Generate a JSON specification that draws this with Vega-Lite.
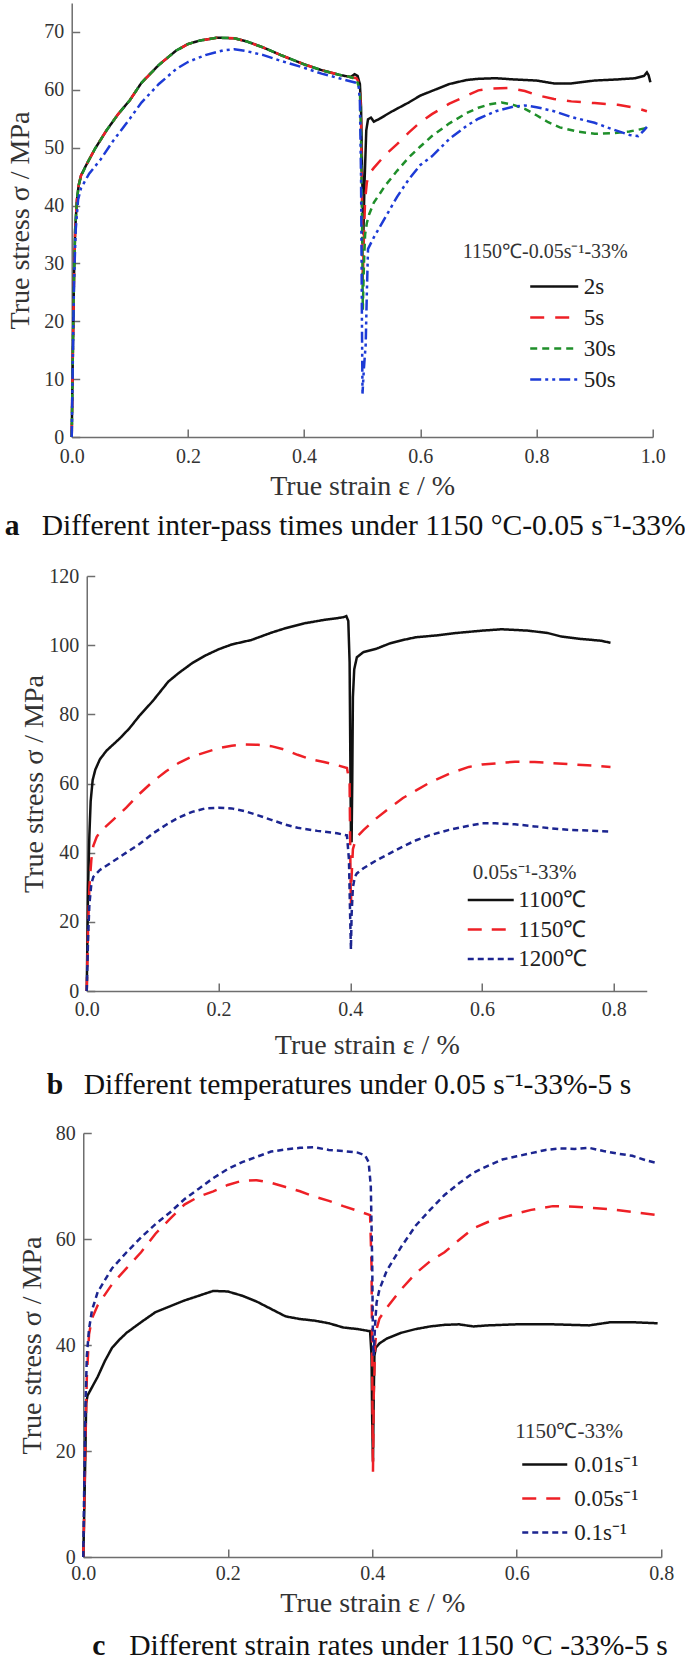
{
"$schema": "https://vega.github.io/schema/vega-lite/v6.json",
"padding": {"left": 4, "top": 3, "right": 0, "bottom": 0},
"spacing": 23,
"center": true,
"resolve": {"scale": {"color": "independent", "strokeDash": "independent"}, "legend": {"color": "independent", "strokeDash": "independent"}},
"config": {
 "font": "Liberation Serif",
 "view": {"stroke": null},
 "line": {"strokeWidth": 2.5},
 "axis": {"grid": false, "labelFlush": false, "domainColor": "#6e6e6e", "domainWidth": 1.5, "tickColor": "#6e6e6e", "tickWidth": 1.5, "tickSize": -8, "labelFont": "Liberation Serif", "labelFontSize": 20, "labelColor": "#333333", "titleFont": "Liberation Serif", "titleFontSize": 28, "titleFontWeight": "normal", "titleColor": "#333333", "labelPadding": 16},
 "legend": {"orient": "none", "symbolType": "M-3,0H3", "symbolSize": 256, "symbolStrokeWidth": 3, "labelFont": "Liberation Serif", "titleFont": "Liberation Serif", "titleFontWeight": "normal", "labelColor": "#222222", "titleColor": "#333333", "padding": 0, "labelFontSize": 23, "titleFontSize": 21, "titleLimit": 400, "labelLimit": 300},
 "title": {"orient": "bottom", "anchor": "start", "frame": "group", "font": "Liberation Serif", "fontSize": 29.6, "fontWeight": "bold", "color": "#111111", "subtitleFont": "Liberation Serif", "subtitleFontSize": 29.6, "subtitleFontWeight": "normal", "subtitleColor": "#111111", "subtitlePadding": -29.6}
},
"datasets": {
 "a": [
  {"s":"2s","x":0,"y":0},{"s":"2s","x":0.002,"y":15},{"s":"2s","x":0.004,"y":28},{"s":"2s","x":0.006,"y":36},{"s":"2s","x":0.009,"y":41},{"s":"2s","x":0.012,"y":43.5},{"s":"2s","x":0.016,"y":45.2},{"s":"2s","x":0.025,"y":47},{"s":"2s","x":0.04,"y":49.8},{"s":"2s","x":0.06,"y":53},{"s":"2s","x":0.08,"y":55.8},{"s":"2s","x":0.1,"y":58.2},{"s":"2s","x":0.12,"y":61.2},{"s":"2s","x":0.15,"y":64.3},{"s":"2s","x":0.18,"y":66.8},{"s":"2s","x":0.2,"y":67.9},{"s":"2s","x":0.22,"y":68.5},{"s":"2s","x":0.25,"y":69},{"s":"2s","x":0.28,"y":68.9},{"s":"2s","x":0.3,"y":68.4},{"s":"2s","x":0.33,"y":67.3},{"s":"2s","x":0.36,"y":66},{"s":"2s","x":0.4,"y":64.4},{"s":"2s","x":0.43,"y":63.4},{"s":"2s","x":0.46,"y":62.6},{"s":"2s","x":0.48,"y":62.2},{"s":"2s","x":0.487,"y":62.7},{"s":"2s","x":0.492,"y":62.4},{"s":"2s","x":0.496,"y":61},{"s":"2s","x":0.498,"y":57},{"s":"2s","x":0.5,"y":45},{"s":"2s","x":0.502,"y":35},{"s":"2s","x":0.504,"y":44},{"s":"2s","x":0.507,"y":53},{"s":"2s","x":0.51,"y":54.9},{"s":"2s","x":0.515,"y":55.2},{"s":"2s","x":0.52,"y":54.5},{"s":"2s","x":0.53,"y":55},{"s":"2s","x":0.55,"y":56.2},{"s":"2s","x":0.58,"y":57.8},{"s":"2s","x":0.6,"y":59},{"s":"2s","x":0.62,"y":59.8},{"s":"2s","x":0.65,"y":61},{"s":"2s","x":0.68,"y":61.7},{"s":"2s","x":0.7,"y":61.9},{"s":"2s","x":0.73,"y":62},{"s":"2s","x":0.76,"y":61.8},{"s":"2s","x":0.8,"y":61.6},{"s":"2s","x":0.83,"y":61.1},{"s":"2s","x":0.86,"y":61.1},{"s":"2s","x":0.9,"y":61.6},{"s":"2s","x":0.94,"y":61.8},{"s":"2s","x":0.97,"y":62},{"s":"2s","x":0.985,"y":62.4},{"s":"2s","x":0.99,"y":63},{"s":"2s","x":0.993,"y":62.5},{"s":"2s","x":0.996,"y":61.3},
  {"s":"5s","x":0,"y":0},{"s":"5s","x":0.002,"y":15},{"s":"5s","x":0.004,"y":28},{"s":"5s","x":0.006,"y":36},{"s":"5s","x":0.009,"y":41},{"s":"5s","x":0.012,"y":43.5},{"s":"5s","x":0.016,"y":45.2},{"s":"5s","x":0.025,"y":47},{"s":"5s","x":0.04,"y":49.8},{"s":"5s","x":0.06,"y":53},{"s":"5s","x":0.08,"y":55.8},{"s":"5s","x":0.1,"y":58.2},{"s":"5s","x":0.12,"y":61.2},{"s":"5s","x":0.15,"y":64.3},{"s":"5s","x":0.18,"y":66.8},{"s":"5s","x":0.2,"y":67.9},{"s":"5s","x":0.22,"y":68.5},{"s":"5s","x":0.25,"y":69},{"s":"5s","x":0.28,"y":68.9},{"s":"5s","x":0.3,"y":68.4},{"s":"5s","x":0.33,"y":67.3},{"s":"5s","x":0.36,"y":66},{"s":"5s","x":0.4,"y":64.4},{"s":"5s","x":0.43,"y":63.4},{"s":"5s","x":0.46,"y":62.6},{"s":"5s","x":0.48,"y":62.2},{"s":"5s","x":0.49,"y":62},{"s":"5s","x":0.496,"y":61},{"s":"5s","x":0.498,"y":55},{"s":"5s","x":0.5,"y":38},{"s":"5s","x":0.501,"y":27},{"s":"5s","x":0.503,"y":35},{"s":"5s","x":0.505,"y":41},{"s":"5s","x":0.508,"y":44},{"s":"5s","x":0.512,"y":45.5},{"s":"5s","x":0.52,"y":46.5},{"s":"5s","x":0.54,"y":48.8},{"s":"5s","x":0.56,"y":50.6},{"s":"5s","x":0.58,"y":52.6},{"s":"5s","x":0.6,"y":54.4},{"s":"5s","x":0.62,"y":55.8},{"s":"5s","x":0.65,"y":57.6},{"s":"5s","x":0.68,"y":59},{"s":"5s","x":0.7,"y":59.9},{"s":"5s","x":0.72,"y":60.2},{"s":"5s","x":0.75,"y":60.3},{"s":"5s","x":0.78,"y":59.8},{"s":"5s","x":0.8,"y":59.1},{"s":"5s","x":0.83,"y":58.4},{"s":"5s","x":0.86,"y":58},{"s":"5s","x":0.9,"y":57.7},{"s":"5s","x":0.94,"y":57.4},{"s":"5s","x":0.97,"y":56.9},{"s":"5s","x":0.99,"y":56.3},
  {"s":"30s","x":0,"y":0},{"s":"30s","x":0.002,"y":15},{"s":"30s","x":0.004,"y":28},{"s":"30s","x":0.006,"y":36},{"s":"30s","x":0.009,"y":41},{"s":"30s","x":0.012,"y":43.5},{"s":"30s","x":0.016,"y":45},{"s":"30s","x":0.025,"y":47},{"s":"30s","x":0.04,"y":49.8},{"s":"30s","x":0.06,"y":53},{"s":"30s","x":0.08,"y":55.8},{"s":"30s","x":0.1,"y":58.2},{"s":"30s","x":0.12,"y":61.2},{"s":"30s","x":0.15,"y":64.3},{"s":"30s","x":0.18,"y":66.8},{"s":"30s","x":0.2,"y":67.9},{"s":"30s","x":0.22,"y":68.5},{"s":"30s","x":0.25,"y":69},{"s":"30s","x":0.28,"y":68.9},{"s":"30s","x":0.3,"y":68.4},{"s":"30s","x":0.33,"y":67.3},{"s":"30s","x":0.36,"y":66},{"s":"30s","x":0.4,"y":64.4},{"s":"30s","x":0.43,"y":63.4},{"s":"30s","x":0.46,"y":62.6},{"s":"30s","x":0.48,"y":62.2},{"s":"30s","x":0.49,"y":61.8},{"s":"30s","x":0.496,"y":60},{"s":"30s","x":0.498,"y":52},{"s":"30s","x":0.5,"y":35},{"s":"30s","x":0.501,"y":22},{"s":"30s","x":0.503,"y":30},{"s":"30s","x":0.505,"y":35},{"s":"30s","x":0.508,"y":37},{"s":"30s","x":0.512,"y":38.5},{"s":"30s","x":0.52,"y":40.5},{"s":"30s","x":0.54,"y":43.5},{"s":"30s","x":0.56,"y":46},{"s":"30s","x":0.58,"y":48.3},{"s":"30s","x":0.6,"y":50.2},{"s":"30s","x":0.62,"y":52},{"s":"30s","x":0.65,"y":54.2},{"s":"30s","x":0.68,"y":56},{"s":"30s","x":0.7,"y":56.9},{"s":"30s","x":0.72,"y":57.5},{"s":"30s","x":0.74,"y":57.8},{"s":"30s","x":0.76,"y":57.4},{"s":"30s","x":0.78,"y":56.7},{"s":"30s","x":0.8,"y":55.6},{"s":"30s","x":0.82,"y":54.4},{"s":"30s","x":0.84,"y":53.5},{"s":"30s","x":0.87,"y":52.8},{"s":"30s","x":0.9,"y":52.4},{"s":"30s","x":0.93,"y":52.5},{"s":"30s","x":0.96,"y":52.8},{"s":"30s","x":0.99,"y":53.4},
  {"s":"50s","x":0,"y":0},{"s":"50s","x":0.002,"y":14},{"s":"50s","x":0.004,"y":27},{"s":"50s","x":0.007,"y":36},{"s":"50s","x":0.011,"y":41},{"s":"50s","x":0.016,"y":43},{"s":"50s","x":0.03,"y":45.5},{"s":"50s","x":0.05,"y":48},{"s":"50s","x":0.07,"y":51},{"s":"50s","x":0.1,"y":55},{"s":"50s","x":0.12,"y":57.8},{"s":"50s","x":0.15,"y":61},{"s":"50s","x":0.18,"y":63.6},{"s":"50s","x":0.2,"y":64.8},{"s":"50s","x":0.23,"y":66},{"s":"50s","x":0.26,"y":66.8},{"s":"50s","x":0.28,"y":67},{"s":"50s","x":0.3,"y":66.7},{"s":"50s","x":0.33,"y":66},{"s":"50s","x":0.36,"y":65},{"s":"50s","x":0.4,"y":63.8},{"s":"50s","x":0.43,"y":62.8},{"s":"50s","x":0.46,"y":62},{"s":"50s","x":0.49,"y":61.2},{"s":"50s","x":0.494,"y":60.5},{"s":"50s","x":0.496,"y":58},{"s":"50s","x":0.498,"y":45},{"s":"50s","x":0.4995,"y":20},{"s":"50s","x":0.5005,"y":7.5},{"s":"50s","x":0.503,"y":12},{"s":"50s","x":0.506,"y":16},{"s":"50s","x":0.508,"y":25},{"s":"50s","x":0.51,"y":32.5},{"s":"50s","x":0.515,"y":33.5},{"s":"50s","x":0.52,"y":34.5},{"s":"50s","x":0.54,"y":38},{"s":"50s","x":0.56,"y":41.5},{"s":"50s","x":0.58,"y":44.5},{"s":"50s","x":0.6,"y":47},{"s":"50s","x":0.62,"y":48.5},{"s":"50s","x":0.65,"y":51.5},{"s":"50s","x":0.68,"y":53.8},{"s":"50s","x":0.7,"y":55},{"s":"50s","x":0.73,"y":56.3},{"s":"50s","x":0.76,"y":57.1},{"s":"50s","x":0.78,"y":57.3},{"s":"50s","x":0.8,"y":57},{"s":"50s","x":0.83,"y":56.3},{"s":"50s","x":0.86,"y":55.3},{"s":"50s","x":0.9,"y":54.3},{"s":"50s","x":0.93,"y":53.2},{"s":"50s","x":0.96,"y":52.2},{"s":"50s","x":0.975,"y":52},{"s":"50s","x":0.985,"y":53},{"s":"50s","x":0.99,"y":53.6}
 ],
 "b": [
  {"s":"1100℃","x":0,"y":0},{"s":"1100℃","x":0.002,"y":30},{"s":"1100℃","x":0.004,"y":45},{"s":"1100℃","x":0.006,"y":55},{"s":"1100℃","x":0.009,"y":61},{"s":"1100℃","x":0.013,"y":64},{"s":"1100℃","x":0.02,"y":67},{"s":"1100℃","x":0.03,"y":69.5},{"s":"1100℃","x":0.05,"y":73},{"s":"1100℃","x":0.065,"y":76},{"s":"1100℃","x":0.08,"y":79.6},{"s":"1100℃","x":0.1,"y":83.8},{"s":"1100℃","x":0.124,"y":89.5},{"s":"1100℃","x":0.14,"y":92},{"s":"1100℃","x":0.16,"y":94.8},{"s":"1100℃","x":0.18,"y":97},{"s":"1100℃","x":0.2,"y":98.8},{"s":"1100℃","x":0.22,"y":100.2},{"s":"1100℃","x":0.25,"y":101.5},{"s":"1100℃","x":0.28,"y":103.6},{"s":"1100℃","x":0.3,"y":104.8},{"s":"1100℃","x":0.33,"y":106.3},{"s":"1100℃","x":0.36,"y":107.3},{"s":"1100℃","x":0.38,"y":107.8},{"s":"1100℃","x":0.39,"y":108.1},{"s":"1100℃","x":0.394,"y":108.4},{"s":"1100℃","x":0.397,"y":107},{"s":"1100℃","x":0.399,"y":95},{"s":"1100℃","x":0.4,"y":70},{"s":"1100℃","x":0.401,"y":45},{"s":"1100℃","x":0.402,"y":43},{"s":"1100℃","x":0.403,"y":60},{"s":"1100℃","x":0.404,"y":85},{"s":"1100℃","x":0.406,"y":93},{"s":"1100℃","x":0.41,"y":96.5},{"s":"1100℃","x":0.42,"y":98},{"s":"1100℃","x":0.44,"y":99},{"s":"1100℃","x":0.46,"y":100.5},{"s":"1100℃","x":0.48,"y":101.5},{"s":"1100℃","x":0.5,"y":102.3},{"s":"1100℃","x":0.53,"y":102.8},{"s":"1100℃","x":0.56,"y":103.5},{"s":"1100℃","x":0.6,"y":104.2},{"s":"1100℃","x":0.63,"y":104.6},{"s":"1100℃","x":0.65,"y":104.4},{"s":"1100℃","x":0.67,"y":104.2},{"s":"1100℃","x":0.7,"y":103.5},{"s":"1100℃","x":0.72,"y":102.5},{"s":"1100℃","x":0.75,"y":101.8},{"s":"1100℃","x":0.78,"y":101.3},{"s":"1100℃","x":0.795,"y":100.7},
  {"s":"1150℃","x":0,"y":0},{"s":"1150℃","x":0.002,"y":18},{"s":"1150℃","x":0.004,"y":30},{"s":"1150℃","x":0.007,"y":38},{"s":"1150℃","x":0.01,"y":42},{"s":"1150℃","x":0.015,"y":44.5},{"s":"1150℃","x":0.02,"y":46},{"s":"1150℃","x":0.04,"y":49.5},{"s":"1150℃","x":0.06,"y":53},{"s":"1150℃","x":0.08,"y":57},{"s":"1150℃","x":0.1,"y":60.5},{"s":"1150℃","x":0.12,"y":63.5},{"s":"1150℃","x":0.14,"y":66},{"s":"1150℃","x":0.16,"y":67.8},{"s":"1150℃","x":0.18,"y":69},{"s":"1150℃","x":0.2,"y":70.2},{"s":"1150℃","x":0.22,"y":70.9},{"s":"1150℃","x":0.24,"y":71.3},{"s":"1150℃","x":0.26,"y":71.2},{"s":"1150℃","x":0.28,"y":70.8},{"s":"1150℃","x":0.3,"y":69.8},{"s":"1150℃","x":0.32,"y":68.3},{"s":"1150℃","x":0.34,"y":67},{"s":"1150℃","x":0.36,"y":66.2},{"s":"1150℃","x":0.38,"y":65.3},{"s":"1150℃","x":0.395,"y":64.5},{"s":"1150℃","x":0.399,"y":60},{"s":"1150℃","x":0.4,"y":40},{"s":"1150℃","x":0.401,"y":25},{"s":"1150℃","x":0.402,"y":33},{"s":"1150℃","x":0.404,"y":41},{"s":"1150℃","x":0.407,"y":43},{"s":"1150℃","x":0.41,"y":44.5},{"s":"1150℃","x":0.42,"y":46.5},{"s":"1150℃","x":0.44,"y":50},{"s":"1150℃","x":0.46,"y":53},{"s":"1150℃","x":0.48,"y":55.8},{"s":"1150℃","x":0.5,"y":58},{"s":"1150℃","x":0.52,"y":60.2},{"s":"1150℃","x":0.55,"y":62.8},{"s":"1150℃","x":0.58,"y":64.8},{"s":"1150℃","x":0.6,"y":65.5},{"s":"1150℃","x":0.62,"y":65.8},{"s":"1150℃","x":0.65,"y":66.3},{"s":"1150℃","x":0.68,"y":66.2},{"s":"1150℃","x":0.7,"y":66},{"s":"1150℃","x":0.73,"y":65.6},{"s":"1150℃","x":0.76,"y":65.3},{"s":"1150℃","x":0.795,"y":64.8},
  {"s":"1200℃","x":0,"y":0},{"s":"1200℃","x":0.002,"y":15},{"s":"1200℃","x":0.004,"y":25},{"s":"1200℃","x":0.007,"y":31},{"s":"1200℃","x":0.01,"y":33},{"s":"1200℃","x":0.02,"y":35},{"s":"1200℃","x":0.04,"y":37.5},{"s":"1200℃","x":0.06,"y":40},{"s":"1200℃","x":0.08,"y":42.5},{"s":"1200℃","x":0.1,"y":45.5},{"s":"1200℃","x":0.12,"y":48},{"s":"1200℃","x":0.14,"y":50.2},{"s":"1200℃","x":0.16,"y":51.8},{"s":"1200℃","x":0.18,"y":52.8},{"s":"1200℃","x":0.2,"y":53},{"s":"1200℃","x":0.22,"y":52.8},{"s":"1200℃","x":0.24,"y":52},{"s":"1200℃","x":0.26,"y":50.8},{"s":"1200℃","x":0.28,"y":49.5},{"s":"1200℃","x":0.3,"y":48.2},{"s":"1200℃","x":0.32,"y":47.2},{"s":"1200℃","x":0.35,"y":46.3},{"s":"1200℃","x":0.38,"y":45.6},{"s":"1200℃","x":0.395,"y":45},{"s":"1200℃","x":0.398,"y":38},{"s":"1200℃","x":0.4,"y":20},{"s":"1200℃","x":0.401,"y":12},{"s":"1200℃","x":0.402,"y":22},{"s":"1200℃","x":0.404,"y":30},{"s":"1200℃","x":0.407,"y":33},{"s":"1200℃","x":0.41,"y":34},{"s":"1200℃","x":0.42,"y":35.5},{"s":"1200℃","x":0.44,"y":37.8},{"s":"1200℃","x":0.46,"y":39.8},{"s":"1200℃","x":0.48,"y":41.8},{"s":"1200℃","x":0.5,"y":43.6},{"s":"1200℃","x":0.52,"y":45},{"s":"1200℃","x":0.55,"y":46.6},{"s":"1200℃","x":0.58,"y":47.8},{"s":"1200℃","x":0.6,"y":48.5},{"s":"1200℃","x":0.62,"y":48.5},{"s":"1200℃","x":0.65,"y":48.2},{"s":"1200℃","x":0.68,"y":47.6},{"s":"1200℃","x":0.7,"y":47.1},{"s":"1200℃","x":0.73,"y":46.6},{"s":"1200℃","x":0.76,"y":46.4},{"s":"1200℃","x":0.795,"y":46.1}
 ],
 "c": [
  {"s":"0.01s⁻¹","x":0,"y":0},{"s":"0.01s⁻¹","x":0.001,"y":6},{"s":"0.01s⁻¹","x":0.003,"y":20},{"s":"0.01s⁻¹","x":0.004,"y":29},{"s":"0.01s⁻¹","x":0.006,"y":30.5},{"s":"0.01s⁻¹","x":0.01,"y":31.5},{"s":"0.01s⁻¹","x":0.02,"y":34},{"s":"0.01s⁻¹","x":0.03,"y":37},{"s":"0.01s⁻¹","x":0.04,"y":39.5},{"s":"0.01s⁻¹","x":0.05,"y":41},{"s":"0.01s⁻¹","x":0.06,"y":42.3},{"s":"0.01s⁻¹","x":0.08,"y":44.3},{"s":"0.01s⁻¹","x":0.1,"y":46.2},{"s":"0.01s⁻¹","x":0.12,"y":47.3},{"s":"0.01s⁻¹","x":0.14,"y":48.4},{"s":"0.01s⁻¹","x":0.16,"y":49.3},{"s":"0.01s⁻¹","x":0.18,"y":50.2},{"s":"0.01s⁻¹","x":0.2,"y":50.1},{"s":"0.01s⁻¹","x":0.22,"y":49.3},{"s":"0.01s⁻¹","x":0.24,"y":48.2},{"s":"0.01s⁻¹","x":0.26,"y":46.8},{"s":"0.01s⁻¹","x":0.28,"y":45.4},{"s":"0.01s⁻¹","x":0.3,"y":44.9},{"s":"0.01s⁻¹","x":0.32,"y":44.6},{"s":"0.01s⁻¹","x":0.34,"y":44.1},{"s":"0.01s⁻¹","x":0.36,"y":43.3},{"s":"0.01s⁻¹","x":0.38,"y":43},{"s":"0.01s⁻¹","x":0.397,"y":42.6},{"s":"0.01s⁻¹","x":0.399,"y":38},{"s":"0.01s⁻¹","x":0.4,"y":25},{"s":"0.01s⁻¹","x":0.401,"y":18},{"s":"0.01s⁻¹","x":0.402,"y":30},{"s":"0.01s⁻¹","x":0.403,"y":38},{"s":"0.01s⁻¹","x":0.405,"y":39.5},{"s":"0.01s⁻¹","x":0.41,"y":40.3},{"s":"0.01s⁻¹","x":0.42,"y":41.2},{"s":"0.01s⁻¹","x":0.44,"y":42.3},{"s":"0.01s⁻¹","x":0.46,"y":43},{"s":"0.01s⁻¹","x":0.48,"y":43.5},{"s":"0.01s⁻¹","x":0.5,"y":43.8},{"s":"0.01s⁻¹","x":0.52,"y":43.9},{"s":"0.01s⁻¹","x":0.54,"y":43.5},{"s":"0.01s⁻¹","x":0.56,"y":43.7},{"s":"0.01s⁻¹","x":0.6,"y":43.9},{"s":"0.01s⁻¹","x":0.65,"y":43.9},{"s":"0.01s⁻¹","x":0.7,"y":43.7},{"s":"0.01s⁻¹","x":0.73,"y":44.3},{"s":"0.01s⁻¹","x":0.76,"y":44.3},{"s":"0.01s⁻¹","x":0.795,"y":44.1},
  {"s":"0.05s⁻¹","x":0,"y":0},{"s":"0.05s⁻¹","x":0.001,"y":6},{"s":"0.05s⁻¹","x":0.003,"y":22},{"s":"0.05s⁻¹","x":0.005,"y":34},{"s":"0.05s⁻¹","x":0.008,"y":42},{"s":"0.05s⁻¹","x":0.012,"y":45},{"s":"0.05s⁻¹","x":0.02,"y":47.5},{"s":"0.05s⁻¹","x":0.04,"y":51.5},{"s":"0.05s⁻¹","x":0.06,"y":54.5},{"s":"0.05s⁻¹","x":0.08,"y":57.5},{"s":"0.05s⁻¹","x":0.1,"y":61},{"s":"0.05s⁻¹","x":0.12,"y":63.8},{"s":"0.05s⁻¹","x":0.14,"y":66.5},{"s":"0.05s⁻¹","x":0.16,"y":68},{"s":"0.05s⁻¹","x":0.18,"y":69},{"s":"0.05s⁻¹","x":0.2,"y":70.2},{"s":"0.05s⁻¹","x":0.22,"y":71},{"s":"0.05s⁻¹","x":0.24,"y":71.1},{"s":"0.05s⁻¹","x":0.26,"y":70.6},{"s":"0.05s⁻¹","x":0.28,"y":69.8},{"s":"0.05s⁻¹","x":0.3,"y":69},{"s":"0.05s⁻¹","x":0.32,"y":68},{"s":"0.05s⁻¹","x":0.34,"y":67.2},{"s":"0.05s⁻¹","x":0.36,"y":66.2},{"s":"0.05s⁻¹","x":0.38,"y":65.3},{"s":"0.05s⁻¹","x":0.397,"y":64.5},{"s":"0.05s⁻¹","x":0.399,"y":55},{"s":"0.05s⁻¹","x":0.4,"y":35},{"s":"0.05s⁻¹","x":0.401,"y":16},{"s":"0.05s⁻¹","x":0.402,"y":30},{"s":"0.05s⁻¹","x":0.404,"y":40},{"s":"0.05s⁻¹","x":0.406,"y":43},{"s":"0.05s⁻¹","x":0.41,"y":45},{"s":"0.05s⁻¹","x":0.42,"y":47},{"s":"0.05s⁻¹","x":0.44,"y":50.5},{"s":"0.05s⁻¹","x":0.46,"y":53.5},{"s":"0.05s⁻¹","x":0.48,"y":55.8},{"s":"0.05s⁻¹","x":0.5,"y":57.5},{"s":"0.05s⁻¹","x":0.52,"y":59.8},{"s":"0.05s⁻¹","x":0.54,"y":62},{"s":"0.05s⁻¹","x":0.56,"y":63.2},{"s":"0.05s⁻¹","x":0.58,"y":64},{"s":"0.05s⁻¹","x":0.6,"y":64.8},{"s":"0.05s⁻¹","x":0.62,"y":65.5},{"s":"0.05s⁻¹","x":0.65,"y":66.2},{"s":"0.05s⁻¹","x":0.68,"y":66.1},{"s":"0.05s⁻¹","x":0.7,"y":65.9},{"s":"0.05s⁻¹","x":0.73,"y":65.6},{"s":"0.05s⁻¹","x":0.76,"y":65.1},{"s":"0.05s⁻¹","x":0.795,"y":64.5},
  {"s":"0.1s⁻¹","x":0,"y":0},{"s":"0.1s⁻¹","x":0.001,"y":10},{"s":"0.1s⁻¹","x":0.003,"y":28},{"s":"0.1s⁻¹","x":0.005,"y":38},{"s":"0.1s⁻¹","x":0.008,"y":43},{"s":"0.1s⁻¹","x":0.012,"y":46.5},{"s":"0.1s⁻¹","x":0.02,"y":50},{"s":"0.1s⁻¹","x":0.04,"y":54.5},{"s":"0.1s⁻¹","x":0.06,"y":57.5},{"s":"0.1s⁻¹","x":0.08,"y":60.3},{"s":"0.1s⁻¹","x":0.1,"y":62.8},{"s":"0.1s⁻¹","x":0.12,"y":65},{"s":"0.1s⁻¹","x":0.14,"y":67.5},{"s":"0.1s⁻¹","x":0.16,"y":69.5},{"s":"0.1s⁻¹","x":0.18,"y":71.5},{"s":"0.1s⁻¹","x":0.2,"y":73.2},{"s":"0.1s⁻¹","x":0.22,"y":74.5},{"s":"0.1s⁻¹","x":0.24,"y":75.5},{"s":"0.1s⁻¹","x":0.26,"y":76.5},{"s":"0.1s⁻¹","x":0.28,"y":76.9},{"s":"0.1s⁻¹","x":0.3,"y":77.2},{"s":"0.1s⁻¹","x":0.32,"y":77.3},{"s":"0.1s⁻¹","x":0.34,"y":76.8},{"s":"0.1s⁻¹","x":0.36,"y":76.6},{"s":"0.1s⁻¹","x":0.38,"y":76.3},{"s":"0.1s⁻¹","x":0.39,"y":75.8},{"s":"0.1s⁻¹","x":0.395,"y":74.5},{"s":"0.1s⁻¹","x":0.398,"y":70},{"s":"0.1s⁻¹","x":0.4,"y":55},{"s":"0.1s⁻¹","x":0.401,"y":40},{"s":"0.1s⁻¹","x":0.402,"y":38},{"s":"0.1s⁻¹","x":0.404,"y":44},{"s":"0.1s⁻¹","x":0.406,"y":48},{"s":"0.1s⁻¹","x":0.41,"y":50.5},{"s":"0.1s⁻¹","x":0.42,"y":54},{"s":"0.1s⁻¹","x":0.44,"y":58.5},{"s":"0.1s⁻¹","x":0.46,"y":62.5},{"s":"0.1s⁻¹","x":0.48,"y":65.5},{"s":"0.1s⁻¹","x":0.5,"y":68.3},{"s":"0.1s⁻¹","x":0.52,"y":70.5},{"s":"0.1s⁻¹","x":0.54,"y":72.5},{"s":"0.1s⁻¹","x":0.56,"y":73.8},{"s":"0.1s⁻¹","x":0.58,"y":75},{"s":"0.1s⁻¹","x":0.6,"y":75.6},{"s":"0.1s⁻¹","x":0.62,"y":76.2},{"s":"0.1s⁻¹","x":0.64,"y":76.8},{"s":"0.1s⁻¹","x":0.66,"y":77.1},{"s":"0.1s⁻¹","x":0.68,"y":77},{"s":"0.1s⁻¹","x":0.7,"y":77.2},{"s":"0.1s⁻¹","x":0.72,"y":76.6},{"s":"0.1s⁻¹","x":0.74,"y":76.1},{"s":"0.1s⁻¹","x":0.76,"y":75.7},{"s":"0.1s⁻¹","x":0.78,"y":74.8},{"s":"0.1s⁻¹","x":0.795,"y":74.3}
 ]
},
"vconcat": [
 {
  "vconcat": [
   {
    "width": 581, "height": 434,
    "data": {"name": "a"},
    "title": {"text": "a", "subtitle": "\u200b\u00a0\u00a0\u00a0\u00a0\u00a0Different inter-pass times under 1150 °C-0.05 s⁻¹-33%", "dx": -67, "offset": 12},
    "mark": {"type": "line", "strokeWidth": 2.5},
    "encoding": {
     "x": {"field": "x", "type": "quantitative", "scale": {"domain": [0, 1], "nice": false}, "axis": {"values": [0, 0.2, 0.4, 0.6, 0.8, 1], "format": ".1f", "title": "True strain ε / %", "labelPadding": 17, "titlePadding": 6}},
     "y": {"field": "y", "type": "quantitative", "scale": {"domain": [0, 75], "nice": false}, "axis": {"values": [0, 10, 20, 30, 40, 50, 60, 70], "format": "d", "title": "True stress σ / MPa", "titlePadding": 9}},
     "color": {"field": "s", "type": "nominal", "scale": {"domain": ["2s", "5s", "30s", "50s"], "range": ["#111111", "#ee2026", "#1f8f2a", "#1d3bd6"]}, "legend": {"title": "1150℃-0.05s⁻¹-33%", "titleFontSize": 20, "legendX": 391, "legendY": 239, "symbolOffset": 80, "labelOffset": 18, "rowPadding": 7, "titlePadding": 13}},
     "strokeDash": {"field": "s", "type": "nominal", "scale": {"domain": ["2s", "5s", "30s", "50s"], "range": [[1, 0], [14, 11], [7, 5], [11, 4, 3, 4, 3, 4]]}, "legend": {"title": "1150℃-0.05s⁻¹-33%"}}
    }
   },
   {
    "width": 560, "height": 415,
    "data": {"name": "b"},
    "title": {"text": "b", "subtitle": "\u200b\u00a0\u00a0\u00a0\u00a0\u00a0Different temperatures under 0.05 s⁻¹-33%-5 s", "dx": -40, "offset": 12},
    "mark": {"type": "line", "strokeWidth": 2.5},
    "encoding": {
     "x": {"field": "x", "type": "quantitative", "scale": {"domain": [0, 0.85], "nice": false}, "axis": {"values": [0, 0.2, 0.4, 0.6, 0.8], "format": ".1f", "title": "True strain ε / %", "labelPadding": 16, "titlePadding": 12}},
     "y": {"field": "y", "type": "quantitative", "scale": {"domain": [0, 120], "nice": false}, "axis": {"values": [0, 20, 40, 60, 80, 100, 120], "format": "d", "title": "True stress σ / MPa", "titlePadding": 0}},
     "color": {"field": "s", "type": "nominal", "scale": {"domain": ["1100℃", "1150℃", "1200℃"], "range": ["#111111", "#ee2026", "#1c2590"]}, "legend": {"title": "0.05s⁻¹-33%", "legendX": 303, "legendY": 203, "padding": 83, "symbolType": "M-2.875,0H2.875", "symbolOffset": 6.5, "labelOffset": 16, "rowPadding": 5.5, "titlePadding": 5.5}},
     "strokeDash": {"field": "s", "type": "nominal", "scale": {"domain": ["1100℃", "1150℃", "1200℃"], "range": [[1, 0], [14, 10], [6, 4]]}, "legend": {"title": "0.05s⁻¹-33%"}}
    }
   }
  ],
  "spacing": 25,
  "center": true,
  "resolve": {"scale": {"color": "independent", "strokeDash": "independent"}, "legend": {"color": "independent", "strokeDash": "independent"}}
 },
 {
  "width": 578, "height": 424,
  "data": {"name": "c"},
  "title": {"text": "c", "subtitle": "\u200b\u00a0\u00a0\u00a0\u00a0\u00a0Different strain rates under 1150 °C -33%-5 s", "dx": 9, "offset": 15},
  "mark": {"type": "line", "strokeWidth": 2.5},
  "encoding": {
   "x": {"field": "x", "type": "quantitative", "scale": {"domain": [0, 0.8], "nice": false}, "axis": {"values": [0, 0.2, 0.4, 0.6, 0.8], "format": ".1f", "title": "True strain ε / %", "labelPadding": 14, "titlePadding": 6}},
   "y": {"field": "y", "type": "quantitative", "scale": {"domain": [0, 80], "nice": false}, "axis": {"values": [0, 20, 40, 60, 80], "format": "d", "title": "True stress σ / MPa", "titlePadding": 9}},
   "color": {"field": "s", "type": "nominal", "scale": {"domain": ["0.01s⁻¹", "0.05s⁻¹", "0.1s⁻¹"], "range": ["#111111", "#ee2026", "#1c2590"]}, "legend": {"title": "1150℃-33%", "legendX": 432, "legendY": 288, "symbolType": "M-2.8125,0H2.8125", "symbolOffset": 18, "labelOffset": 18, "rowPadding": 10, "titlePadding": 11}},
   "strokeDash": {"field": "s", "type": "nominal", "scale": {"domain": ["0.01s⁻¹", "0.05s⁻¹", "0.1s⁻¹"], "range": [[1, 0], [14, 10], [6, 4]]}, "legend": {"title": "1150℃-33%"}}
  }
 }
]
}
